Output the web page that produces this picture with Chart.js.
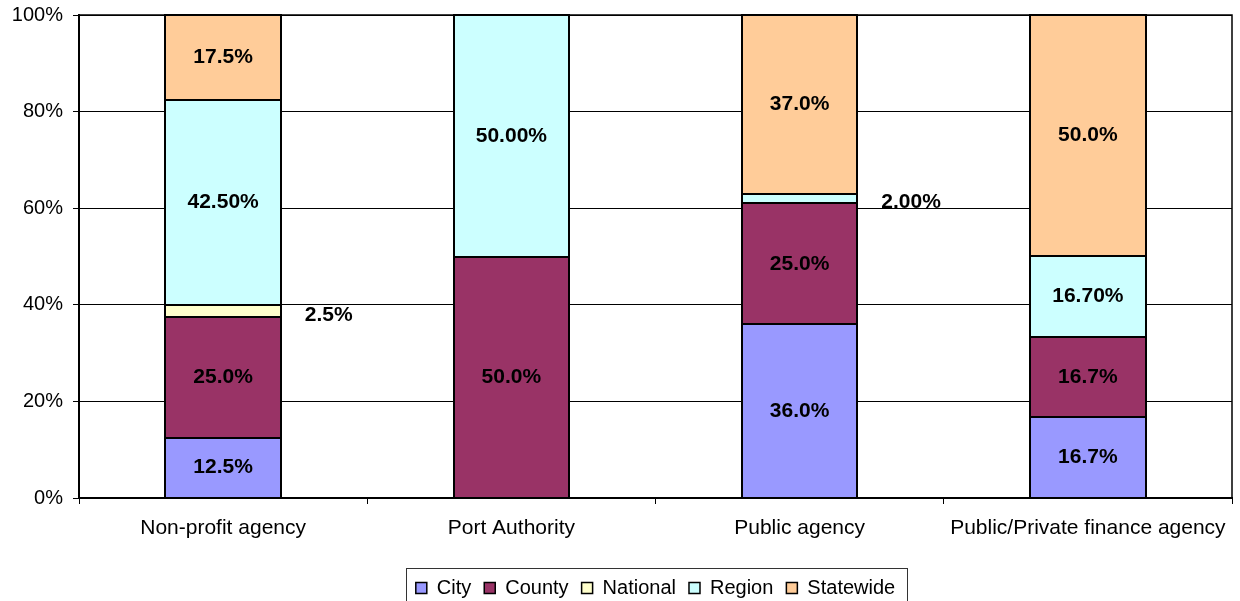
<!DOCTYPE html>
<html>
<head>
<meta charset="utf-8">
<script src="https://cdn.jsdelivr.net/npm/chart.js@4.4.0/dist/chart.umd.min.js"></script>
<style>
  html, body { margin: 0; padding: 0; background: #fff; }
</style>
</head>
<body>
<canvas id="agencyChart" width="1240" height="601"></canvas>
<script>
// Chart data
const categories = ['Non-profit agency', 'Port Authority', 'Public agency', 'Public/Private finance agency']
const seriesNames = ['City', 'County', 'National', 'Region', 'Statewide']
const city = [12.5, 0, 36.0, 16.7]
const county = [25.0, 50.0, 25.0, 16.7]
const national = [2.5, 0, 0, 0]
const region = [42.5, 50.0, 2.0, 16.7]
const statewide = [17.5, 0, 37.0, 50.0]
const labelDecimals = [1, 1, 1, 2, 1] // Region labels show two decimals
const yTicks = [0, 20, 40, 60, 80, 100]

const colors = ['#9999FF', '#993366', '#FFFFCC', '#CCFFFF', '#FFCC99']
const FONT = '"Liberation Sans", Arial, sans-serif'

// black outline on each segment (shared edges stay 2px) + value labels
const segmentLabels = {
  id: 'segmentLabels',
  afterDatasetsDraw(chart) {
    const ctx = chart.ctx
    ctx.save()
    ctx.strokeStyle = '#000'
    ctx.lineWidth = 2
    chart.data.datasets.forEach((ds, i) => {
      chart.getDatasetMeta(i).data.forEach((bar, j) => {
        if (!ds.data[j]) return
        const l = Math.round(bar.x - bar.width / 2)
        const r = Math.round(bar.x + bar.width / 2)
        const t = Math.round(Math.min(bar.y, bar.base))
        const b = Math.round(Math.max(bar.y, bar.base))
        ctx.strokeRect(l, t, r - l, b - t)
      })
    })

    ctx.font = 'bold 21px ' + FONT
    ctx.fillStyle = '#000'
    ctx.textBaseline = 'middle'
    chart.data.datasets.forEach((ds, i) => {
      chart.getDatasetMeta(i).data.forEach((bar, j) => {
        const v = ds.data[j]
        if (!v) return
        const text = v.toFixed(labelDecimals[i]) + '%'
        const h = Math.abs(bar.base - bar.y)
        const cy = (bar.base + bar.y) / 2
        if (h < 24) {
          // thin segment: label sits right of the bar
          ctx.textAlign = 'left'
          ctx.fillText(text, bar.x + bar.width / 2 + 24, cy + 4)
        } else {
          ctx.textAlign = 'center'
          ctx.fillText(text, bar.x, cy)
        }
      })
    })
    ctx.restore()
  }
}

// plot frame + box round the legend
const frame = {
  id: 'frame',
  afterLayout(chart) {
    // push the legend down a bit, like the excel layout
    chart.legend.top += 7
    chart.legend.bottom += 7
  },
  afterDraw(chart) {
    const ctx = chart.ctx
    const a = chart.chartArea
    ctx.save()
    ctx.strokeStyle = '#000'
    ctx.lineWidth = 1.5
    ctx.beginPath()
    ctx.moveTo(a.left, a.top)
    ctx.lineTo(a.right, a.top)
    ctx.lineTo(a.right, a.bottom)
    ctx.stroke()

    const hb = chart.legend.legendHitBoxes
    if (hb && hb.length) {
      const first = hb[0]
      const last = hb[hb.length - 1]
      const left = first.left - 10
      const right = last.left + last.width + 12
      const top = first.top - 10
      ctx.lineWidth = 1
      ctx.strokeStyle = '#333'
      ctx.strokeRect(Math.round(left) + 0.5, Math.round(top) + 0.5, Math.round(right - left), 60)
    }
    ctx.restore()
  }
}

const datasets = [city, county, national, region, statewide].map((values, i) => ({
  label: seriesNames[i],
  data: values,
  backgroundColor: colors[i],
  borderColor: '#000',
  borderWidth: 0,
  barPercentage: 0.4,
  categoryPercentage: 1
}))

const chart = new Chart(document.querySelector('#agencyChart'), {
  type: 'bar',
  data: { labels: categories, datasets },
  plugins: [segmentLabels, frame],
  options: {
    responsive: false,
    animation: false,
    layout: { padding: { top: 15, right: 8, left: 0, bottom: 0 } },
    scales: {
      x: {
        stacked: true,
        grid: {
          display: true,
          drawOnChartArea: false,
          drawTicks: true,
          tickLength: 6,
          offset: true,
          color: '#000'
        },
        border: { display: true, color: '#000', width: 2 },
        ticks: {
          color: '#000',
          padding: 12,
          maxRotation: 0,
          font: { size: 21, family: FONT }
        },
        afterFit: scale => { scale.height = 60 }
      },
      y: {
        stacked: true,
        min: 0,
        max: 100,
        afterBuildTicks: scale => { scale.ticks = yTicks.map(v => ({ value: v })) },
        grid: { color: '#000', lineWidth: 1, tickLength: 6 },
        border: { display: true, color: '#000', width: 2 },
        ticks: {
          color: '#000',
          padding: 10,
          font: { size: 20, family: FONT },
          callback: v => v + '%'
        },
        afterFit: scale => {
          scale.width = 79
          scale.paddingTop = 0
          scale.paddingBottom = 0
        }
      }
    },
    plugins: {
      tooltip: { enabled: false },
      legend: {
        position: 'bottom',
        fullSize: false,
        labels: {
          boxWidth: 11,
          boxHeight: 11,
          padding: 13,
          color: '#000',
          font: { size: 20, family: FONT },
          generateLabels: c => Chart.defaults.plugins.legend.labels.generateLabels(c)
            .map(item => ({ ...item, lineWidth: 1.5, strokeStyle: '#000' }))
        }
      }
    }
  }
})
</script>
</body>
</html>
